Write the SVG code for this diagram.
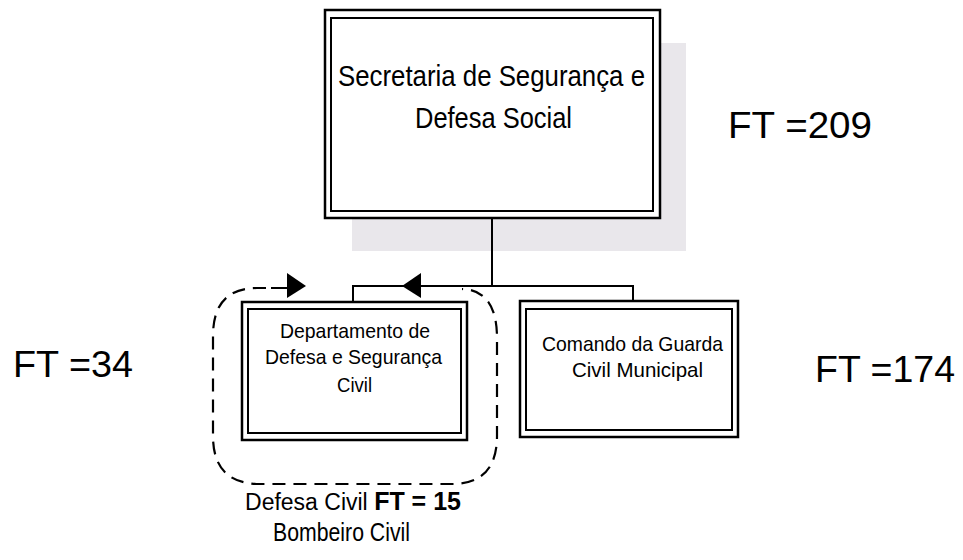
<svg xmlns="http://www.w3.org/2000/svg" width="963" height="560" viewBox="0 0 963 560">
  <style>
    text { font-family: "Liberation Sans", Arial, sans-serif; fill: #000; }
    .outer { fill: #fff; stroke: #000; stroke-width: 2.5; }
    .inner { fill: none; stroke: #000; stroke-width: 2; }
    .conn { fill: none; stroke: #000; stroke-width: 2; }
    .dash { fill: none; stroke: #000; stroke-width: 2.2; stroke-dasharray: 13 8; }
    .head { fill: #000; stroke: none; }
    .t30 { font-size: 30px; }
    .t21 { font-size: 21px; }
    .t36 { font-size: 36px; }
    .t25 { font-size: 25px; }
  </style>
  <rect width="963" height="560" fill="#fff"/>
  <rect id="shadow" x="352" y="43" width="334" height="208" fill="#e9e7eb"/>

  <g id="connectors">
    <path class="conn" d="M492 218 V286 M353 302 V286 H633 V301"/>
    <polygon class="head" points="402,286 421,273 421,298"/>
    <path class="dash" d="M287 288 H257 Q213 288 213 336 V436 Q213 484 260 484 H452 Q497 484 497 436 V338 Q497 290 462 289"/>
    <line class="conn" x1="271" y1="288" x2="288" y2="288"/>
    <polygon class="head" points="306,286 287,273 287,298"/>
  </g>

  <g id="node-secretaria">
    <rect class="outer" x="325" y="10" width="335" height="208"/>
    <rect class="inner" x="331" y="18" width="322" height="193"/>
    <text class="t30" x="338" y="86" textLength="307" lengthAdjust="spacingAndGlyphs">Secretaria de Segurança e</text>
    <text class="t30" x="415" y="128" textLength="157" lengthAdjust="spacingAndGlyphs">Defesa Social</text>
  </g>

  <g id="node-departamento">
    <rect class="outer" x="242" y="302" width="225" height="138"/>
    <rect class="inner" x="248" y="309" width="213" height="124"/>
    <text class="t21" x="280" y="338" textLength="150" lengthAdjust="spacingAndGlyphs">Departamento de</text>
    <text class="t21" x="265" y="364" textLength="177" lengthAdjust="spacingAndGlyphs">Defesa e Segurança</text>
    <text class="t21" x="337" y="392" textLength="35" lengthAdjust="spacingAndGlyphs">Civil</text>
  </g>

  <g id="node-comando">
    <rect class="outer" x="520" y="301" width="218" height="136"/>
    <rect class="inner" x="526" y="309" width="206" height="121"/>
    <text class="t21" x="542" y="351" textLength="181" lengthAdjust="spacingAndGlyphs">Comando da Guarda</text>
    <text class="t21" x="572" y="377" textLength="131" lengthAdjust="spacingAndGlyphs">Civil Municipal</text>
  </g>

  <g id="labels">
    <text class="t36" x="728" y="138" textLength="144" lengthAdjust="spacingAndGlyphs">FT =209</text>
    <text class="t36" x="13" y="377" textLength="120" lengthAdjust="spacingAndGlyphs">FT =34</text>
    <text class="t36" x="815" y="382" textLength="140" lengthAdjust="spacingAndGlyphs">FT =174</text>
    <text x="353" y="510" text-anchor="middle" font-size="23">Defesa Civil <tspan font-weight="bold" font-size="25">FT = 15</tspan></text>
    <text class="t25" x="273" y="541" textLength="137" lengthAdjust="spacingAndGlyphs">Bombeiro Civil</text>
  </g>
</svg>
